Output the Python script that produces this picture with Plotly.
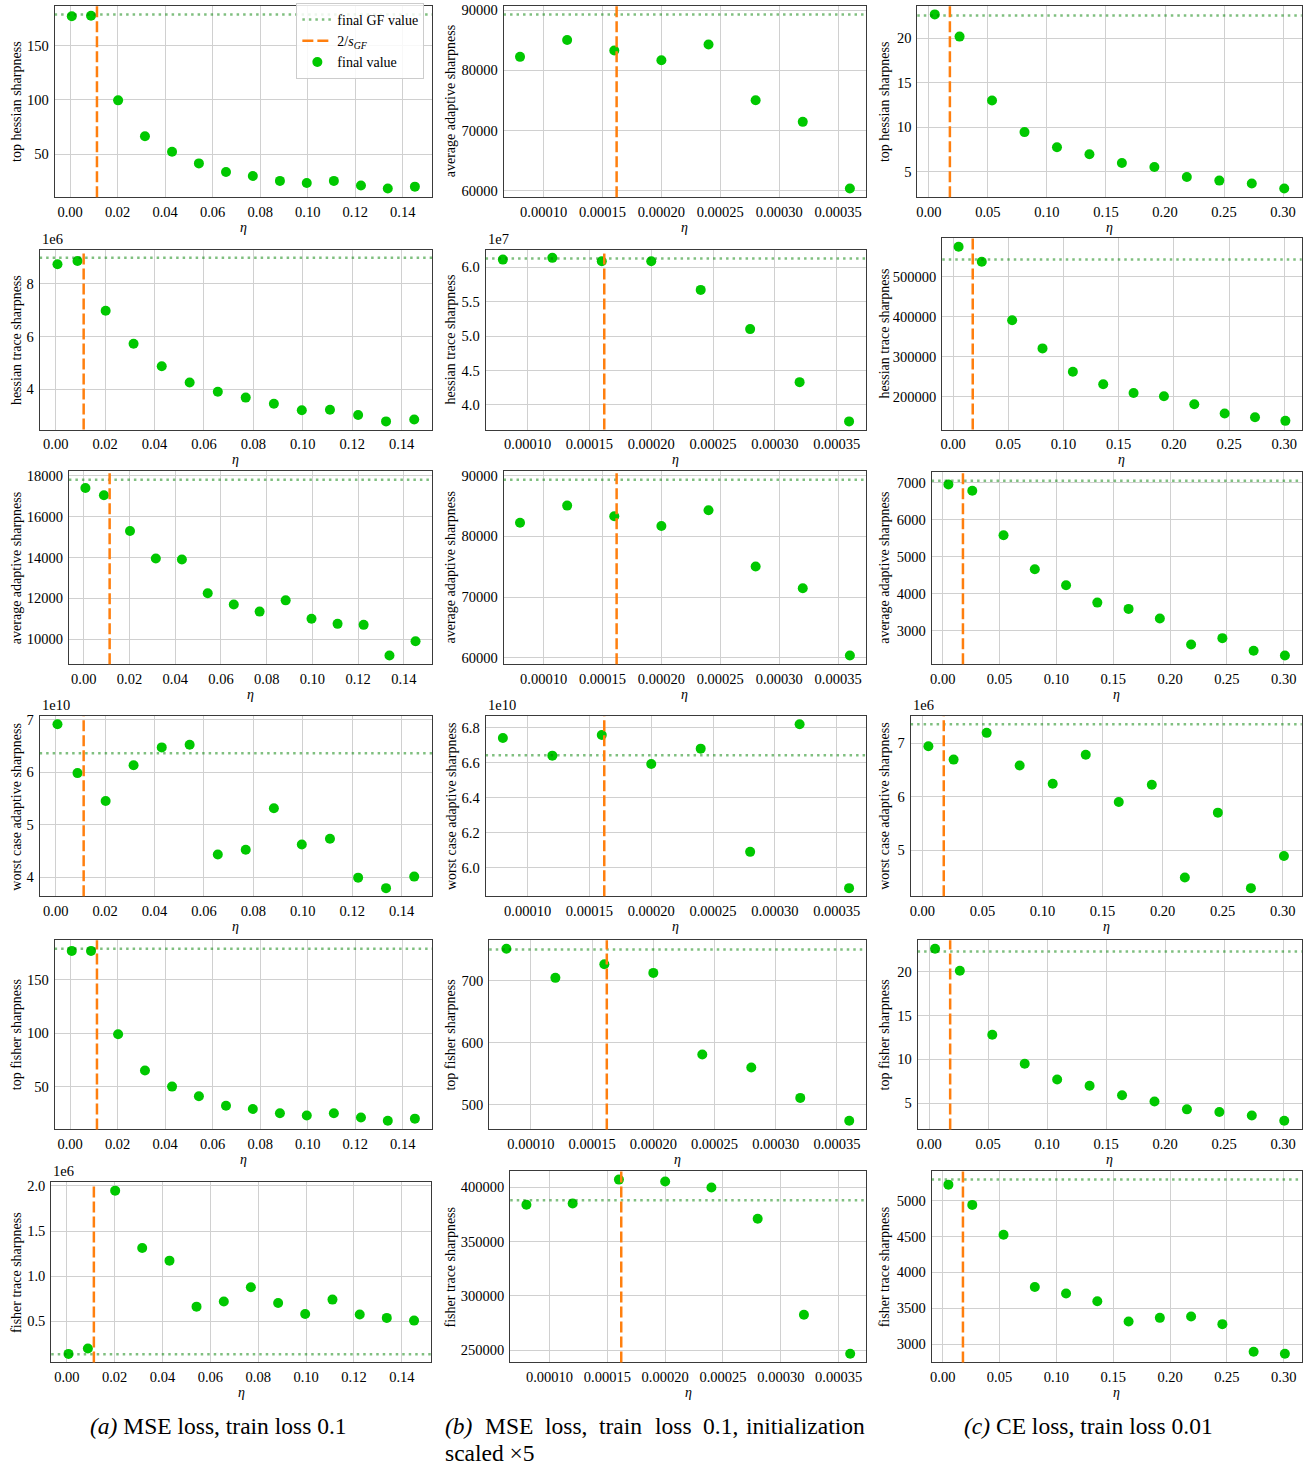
import numpy as np
import plotly.graph_objects as go

W, H = 1310, 1469

# ---------------- data ----------------
eta_a = [0.0007, 0.0088, 0.0202, 0.0315, 0.0429, 0.0542, 0.0656, 0.0769, 0.0883, 0.0996, 0.1110, 0.1224, 0.1337, 0.1451]
eta_b = [0.00008, 0.00012, 0.00016, 0.00020, 0.00024, 0.00028, 0.00032, 0.00036]
eta_c = [0.005, 0.026, 0.0535, 0.081, 0.1085, 0.136, 0.1635, 0.191, 0.2185, 0.246, 0.2735, 0.301]
vline_a, vline_b, vline_c = 0.0113, 0.000162, 0.0178

# row 1
top_hessian_a = [177.0, 177.5, 99.6, 66.5, 52.3, 41.6, 33.7, 30.0, 25.5, 23.6, 25.5, 21.2, 18.5, 20.2]
top_hessian_a_gf = 178.7
avg_adaptive_b = [82240, 85050, 83290, 81690, 84280, 75030, 71450, 60390]
avg_adaptive_b_gf = 89285
top_hessian_c = [22.7, 20.2, 13.0, 9.45, 7.75, 6.95, 5.97, 5.52, 4.4, 3.99, 3.66, 3.1]
top_hessian_c_gf = 22.58
# row 2
hessian_trace_a = [8.74e6, 8.86e6, 6.98e6, 5.73e6, 4.88e6, 4.26e6, 3.91e6, 3.69e6, 3.46e6, 3.21e6, 3.23e6, 3.03e6, 2.79e6, 2.86e6]
hessian_trace_a_gf = 8.98e6
hessian_trace_b = [6.11e7, 6.135e7, 6.087e7, 6.087e7, 5.67e7, 5.10e7, 4.33e7, 3.76e7]
hessian_trace_b_gf = 6.126e7
hessian_trace_c = [574800, 537400, 391100, 320500, 262300, 230700, 209100, 200800, 180800, 157600, 148500, 139300]
hessian_trace_c_gf = 543200
# row 3
avg_adaptive_a = [17400, 17050, 15300, 13950, 13900, 12250, 11700, 11350, 11900, 11000, 10750, 10700, 9200, 9900]
avg_adaptive_a_gf = 17800
avg_adaptive_b2 = [82240, 85050, 83290, 81690, 84280, 75030, 71450, 60390]
avg_adaptive_b2_gf = 89285
avg_adaptive_c = [6950, 6780, 5580, 4660, 4230, 3760, 3590, 3330, 2630, 2800, 2460, 2330]
avg_adaptive_c_gf = 7050
# row 4
worst_adaptive_a = [6.91e10, 5.98e10, 5.45e10, 6.13e10, 6.47e10, 6.52e10, 4.43e10, 4.52e10, 5.31e10, 4.62e10, 4.73e10, 3.99e10, 3.79e10, 4.01e10]
worst_adaptive_a_gf = 6.36e10
worst_adaptive_b = [6.741e10, 6.640e10, 6.758e10, 6.592e10, 6.680e10, 6.091e10, 6.819e10, 5.884e10]
worst_adaptive_b_gf = 6.642e10
worst_adaptive_c = [6.94e6, 6.69e6, 7.19e6, 6.58e6, 6.24e6, 6.78e6, 5.90e6, 6.22e6, 4.49e6, 5.70e6, 4.29e6, 4.89e6]
worst_adaptive_c_gf = 7.35e6
# row 5
top_fisher_a = [177.0, 177.0, 99.0, 65.0, 50.0, 41.0, 32.0, 29.0, 25.0, 23.0, 25.0, 21.0, 18.0, 20.0]
top_fisher_a_gf = 179.0
top_fisher_b = [752, 705, 727, 713, 581, 560, 511, 474]
top_fisher_b_gf = 751
top_fisher_c = [22.6, 20.1, 12.8, 9.5, 7.7, 7.0, 5.9, 5.2, 4.3, 4.0, 3.6, 3.0]
top_fisher_c_gf = 22.3
# row 6
fisher_trace_a = [0.138e6, 0.197e6, 1.948e6, 1.313e6, 1.172e6, 0.662e6, 0.718e6, 0.877e6, 0.703e6, 0.581e6, 0.740e6, 0.574e6, 0.537e6, 0.507e6]
fisher_trace_a_gf = 0.134e6
fisher_trace_b = [383800, 385000, 407000, 405200, 399700, 370900, 282500, 246600]
fisher_trace_b_gf = 388060
fisher_trace_c = [5222, 4940, 4523, 3796, 3704, 3597, 3315, 3366, 3384, 3278, 2894, 2866]
fisher_trace_c_gf = 5292

y_titles = ["top hessian sharpness", "hessian trace sharpness", "average adaptive sharpness",
            "worst case adaptive sharpness", "top fisher sharpness", "fisher trace sharpness"]
y_titles_b = ["average adaptive sharpness", "hessian trace sharpness", "average adaptive sharpness",
              "worst case adaptive sharpness", "top fisher sharpness", "fisher trace sharpness"]

# ---------------- panel specs ----------------
# (row, col): (values, gf, scale, y_dtick, decimals, title)
panels = {
    (0, 0): (top_hessian_a, top_hessian_a_gf, 1, 50, 0, y_titles[0]),
    (0, 1): (avg_adaptive_b, avg_adaptive_b_gf, 1, 10000, 0, y_titles_b[0]),
    (0, 2): (top_hessian_c, top_hessian_c_gf, 1, 5, 0, y_titles[0]),
    (1, 0): (hessian_trace_a, hessian_trace_a_gf, 1e6, 2, 0, y_titles[1]),
    (1, 1): (hessian_trace_b, hessian_trace_b_gf, 1e7, 0.5, 1, y_titles[1]),
    (1, 2): (hessian_trace_c, hessian_trace_c_gf, 1, 100000, 0, y_titles[1]),
    (2, 0): (avg_adaptive_a, avg_adaptive_a_gf, 1, 2000, 0, y_titles[2]),
    (2, 1): (avg_adaptive_b2, avg_adaptive_b2_gf, 1, 10000, 0, y_titles[2]),
    (2, 2): (avg_adaptive_c, avg_adaptive_c_gf, 1, 1000, 0, y_titles[2]),
    (3, 0): (worst_adaptive_a, worst_adaptive_a_gf, 1e10, 1, 0, y_titles[3]),
    (3, 1): (worst_adaptive_b, worst_adaptive_b_gf, 1e10, 0.2, 1, y_titles[3]),
    (3, 2): (worst_adaptive_c, worst_adaptive_c_gf, 1e6, 1, 0, y_titles[3]),
    (4, 0): (top_fisher_a, top_fisher_a_gf, 1, 50, 0, y_titles[4]),
    (4, 1): (top_fisher_b, top_fisher_b_gf, 1, 100, 0, y_titles[4]),
    (4, 2): (top_fisher_c, top_fisher_c_gf, 1, 5, 0, y_titles[4]),
    (5, 0): (fisher_trace_a, fisher_trace_a_gf, 1e6, 0.5, 1, y_titles[5]),
    (5, 1): (fisher_trace_b, fisher_trace_b_gf, 1, 50000, 0, y_titles[5]),
    (5, 2): (fisher_trace_c, fisher_trace_c_gf, 1, 500, 0, y_titles[5]),
}
col_x = [eta_a, eta_b, eta_c]
col_v = [vline_a, vline_b, vline_c]
col_xtick = [(0.02, 2, 0.0), (0.00005, 5, 0.0001), (0.05, 2, 0.0)]

# plot-area rectangles in pixels (left, right, top, bottom)
rects = {
    (0, 0): (52.7, 430.7, 1.7, 194), (0, 1): (502.3, 865.7, 1.7, 194), (0, 2): (916.7, 1301.7, 1.7, 194),
    (1, 0): (37.7, 430.7, 246.7, 427.3), (1, 1): (484.3, 865.7, 246.7, 427.3), (1, 2): (941.7, 1301.7, 235, 427.3),
    (2, 0): (67, 430.7, 469, 663), (2, 1): (502.3, 865.7, 469, 663), (2, 2): (931, 1301.7, 470, 663),
    (3, 0): (37.7, 430.7, 715, 896), (3, 1): (484.3, 865.7, 715, 896), (3, 2): (910, 1301.7, 715, 896),
    (4, 0): (52.7, 430.7, 940, 1130), (4, 1): (488, 865.7, 940, 1130), (4, 2): (917, 1301.7, 940, 1130),
    (5, 0): (49.3, 430, 1183.3, 1364), (5, 1): (509, 865.7, 1171.7, 1364), (5, 2): (931, 1301.7, 1171.7, 1364),
}
title_x = [14.5, 449.5, 884]

FONT = "Liberation Serif"
FS_TICK = 14.5
FS_TITLE = 14
GREEN = "#00c800"
GF_COLOR = "rgba(0,128,0,0.5)"
ORANGE = "#ff7f0e"
GRID = "#d0d0d0"
FRAME = "#3a3a3a"


def pad_range(vals):
    lo, hi = min(vals), max(vals)
    d = (hi - lo) * 0.05
    return [lo - d, hi + d]


def fmt(v, dec):
    return f"{v:.{dec}f}"


fig = go.Figure()
layout = dict(width=W, height=H, margin=dict(l=0, r=0, t=0, b=0),
              paper_bgcolor="white", plot_bgcolor="white",
              font=dict(family=FONT, size=FS_TICK, color="black"), showlegend=True)
shapes, annotations = [], []

for (r, c), (vals, gf, scale, ydt, dec, ytitle) in panels.items():
    idx = r * 3 + c + 1
    xa = "x" if idx == 1 else f"x{idx}"
    ya = "y" if idx == 1 else f"y{idx}"
    xs = col_x[c]
    L, R, T, B = rects[(r, c)]

    xr = pad_range(xs + [col_v[c]])
    yr = pad_range(list(vals) + [gf])

    xdt, xdec, xstart = col_xtick[c]
    xt = np.arange(xstart, xr[1], xdt)
    xt = [v for v in xt if v >= xr[0]]
    lo_t = np.ceil(yr[0] / scale / ydt) * ydt
    yt = np.arange(lo_t, yr[1] / scale + 1e-12, ydt)

    common = dict(showgrid=True, gridcolor=GRID, gridwidth=1, zeroline=False,
                  showline=True, linecolor=FRAME, linewidth=1, mirror=True,
                  ticks="", tickfont=dict(family=FONT, size=FS_TICK, color="black"))
    layout["xaxis" if idx == 1 else f"xaxis{idx}"] = dict(
        common, domain=[L / W, R / W], anchor=ya, range=xr, ticklabelstandoff=1,
        tickvals=list(xt), ticktext=[fmt(v, xdec) for v in xt])
    layout["yaxis" if idx == 1 else f"yaxis{idx}"] = dict(
        common, domain=[1 - B / H, 1 - T / H], anchor=xa, range=yr, ticklabelstandoff=2,
        tickvals=[v * scale for v in yt], ticktext=[fmt(v, dec) for v in yt])

    first = idx == 1
    shapes.append(dict(type="line", xref=f"{xa} domain", x0=0, x1=1, yref=ya, y0=gf, y1=gf,
                       line=dict(color=GF_COLOR, width=2.5, dash="2.5px,4px"), layer="above",
                       showlegend=first, name="final GF value", legendrank=1))
    shapes.append(dict(type="line", yref=f"{ya} domain", y0=0, y1=1, xref=xa, x0=col_v[c], x1=col_v[c],
                       line=dict(color=ORANGE, width=2.5, dash="11px,4px"), layer="above",
                       showlegend=first, name="2/<i>s</i><sub><i>GF</i></sub>", legendrank=2))
    fig.add_trace(go.Scatter(x=xs, y=vals, xaxis=xa, yaxis=ya, mode="markers",
                             marker=dict(color=GREEN, size=10, line=dict(width=0)),
                             name="final value", showlegend=first, legendrank=3))

    annotations.append(dict(text=ytitle, textangle=-90, x=title_x[c] / W, y=1 - (T + B) / 2 / H,
                            xref="paper", yref="paper", showarrow=False, xanchor="center", yanchor="middle",
                            font=dict(family=FONT, size=FS_TITLE)))
    annotations.append(dict(text="<i>η</i>", x=(L + R) / 2 / W, y=1 - (B + 30) / H,
                            xref="paper", yref="paper", showarrow=False, xanchor="center", yanchor="middle",
                            font=dict(family=FONT, size=FS_TITLE)))
    if scale != 1:
        annotations.append(dict(text=f"1e{int(round(np.log10(scale)))}", x=L / W, y=1 - (T - 1) / H,
                                xref="paper", yref="paper", showarrow=False, xanchor="left", yanchor="bottom",
                                font=dict(family=FONT, size=FS_TICK)))

# captions
CAP = 23.5
annotations.append(dict(text="<i>(a)</i> MSE loss, train loss 0.1", x=217 / W, y=1 - 1428 / H,
                        xref="paper", yref="paper", showarrow=False, xanchor="center", yanchor="middle",
                        font=dict(family=FONT, size=CAP)))
annotations.append(dict(text="<i>(c)</i> CE loss, train loss 0.01", x=1088 / W, y=1 - 1428 / H,
                        xref="paper", yref="paper", showarrow=False, xanchor="center", yanchor="middle",
                        font=dict(family=FONT, size=CAP)))
caption_b_words = ["<i>(b)</i>", "MSE", "loss,", "train", "loss", "0.1,", "initialization"]
caption_b_left = [441.7, 481.3, 541.8, 596.4, 651.7, 700.5, None]
for wtxt, wx in zip(caption_b_words, caption_b_left):
    if wx is None:
        annotations.append(dict(text=wtxt, x=866.7 / W, y=1 - 1428 / H, xref="paper", yref="paper",
                                showarrow=False, xanchor="right", yanchor="middle", font=dict(family=FONT, size=CAP)))
    else:
        annotations.append(dict(text=wtxt, x=wx / W, y=1 - 1428 / H, xref="paper", yref="paper",
                                showarrow=False, xanchor="left", yanchor="middle", font=dict(family=FONT, size=CAP)))
annotations.append(dict(text="scaled ×5", x=441.7 / W, y=1 - 1455 / H, xref="paper", yref="paper",
                        showarrow=False, xanchor="left", yanchor="middle", font=dict(family=FONT, size=CAP)))

layout["shapes"] = shapes
layout["annotations"] = annotations
layout["legend"] = dict(x=423 / W, y=1 + 1 / H, xanchor="right", yanchor="top",
                        bgcolor="rgba(255,255,255,0.85)", bordercolor="#cccccc", borderwidth=1,
                        font=dict(family=FONT, size=FS_TITLE), itemwidth=30, tracegroupgap=0)
fig.update_layout(**layout)
fig.write_html("out.html")
